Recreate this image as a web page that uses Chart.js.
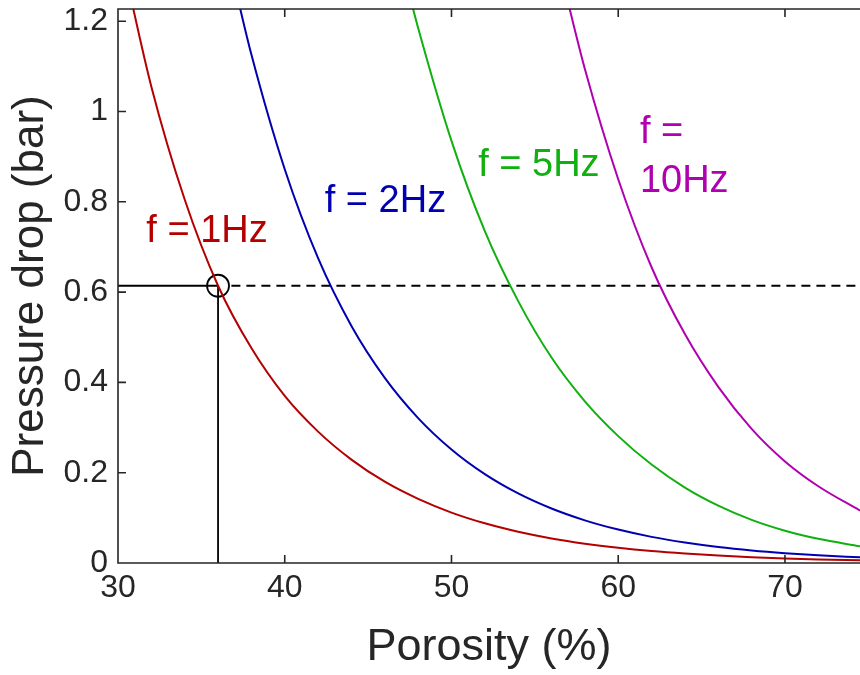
<!DOCTYPE html>
<html>
<head>
<meta charset="utf-8">
<script src="https://cdn.jsdelivr.net/npm/chart.js@4"></script>
<style>
    html, body { margin: 0; padding: 0; background: #fff; overflow: hidden; }
    #wrap { width: 860px; height: 675px; }
</style>
</head>
<body>
<div id="wrap"><canvas id="chart" width="860" height="675"></canvas></div>
<script>
// values
const porosity1Hz = [30.5, 32, 34, 36, 38, 40, 42, 44, 46, 48, 50, 52, 54, 56, 58, 60, 62, 64, 66, 68, 70, 72, 74.5];
const pressure1Hz = [1.296, 1.055, 0.805, 0.614, 0.476, 0.370, 0.291, 0.229, 0.180, 0.142, 0.1117, 0.0879, 0.0692, 0.0544, 0.0428, 0.0337, 0.0265, 0.0209, 0.0164, 0.0129, 0.0102, 0.0080, 0.0059];

const porosity2Hz = [37, 38, 40, 42, 44, 46, 48, 50, 52, 54, 56, 58, 60, 62, 64, 66, 68, 70, 72, 74.5];
const pressure2Hz = [1.279, 1.126, 0.872, 0.675, 0.525, 0.410, 0.321, 0.2514, 0.1968, 0.1541, 0.1207, 0.0945, 0.0740, 0.0579, 0.0454, 0.0355, 0.0278, 0.0218, 0.0171, 0.0126];

const porosity5Hz = [47.4, 48, 50, 52, 54, 56, 58, 60, 62, 64, 66, 68, 70, 72, 74.5];
const pressure5Hz = [1.27, 1.185, 0.935, 0.735, 0.58, 0.455, 0.358, 0.281, 0.218, 0.167, 0.127, 0.0955, 0.0715, 0.0535, 0.037];

const porosity10Hz = [56.8, 58, 60, 62, 64, 66, 68, 70, 72, 74.5];
const pressure10Hz = [1.27, 1.094, 0.85, 0.655, 0.507, 0.39, 0.297, 0.225, 0.170, 0.116];

const curveNames = ['f = 1Hz', 'f = 2Hz', 'f = 5Hz', 'f = 10Hz'];
const curveColors = ['#b40000', '#0000b0', '#10b010', '#b000b0'];

// operating point marked on the 1Hz curve
const markerPorosity = 36;
const markerPressure = 0.614;
const dashStart = 36.8;

const xTicks = [30, 40, 50, 60, 70];
const yTicks = [0, 0.2, 0.4, 0.6, 0.8, 1, 1.2];
const xMin = 30, xMax = 74.5;
const yMin = 0, yMax = 1.227;

const axisColor = '#262626';
const fontFamily = '"Liberation Sans", Arial, Helvetica, sans-serif';

// label placement in data units: [porosity at left edge, pressure at middle]
const labelSpots = [
    { lines: ['f = 1Hz'], x: 31.7, y: 0.735 },
    { lines: ['f = 2Hz'], x: 42.4, y: 0.80 },
    { lines: ['f = 5Hz'], x: 51.6, y: 0.88 },
    { lines: ['f =', '10Hz'], x: 61.3, y: 0.9 }
];

const toPoints = (xs, ys) => xs.map((x, i) => ({ x: x, y: ys[i] }));

const curveSets = [
    [porosity1Hz, pressure1Hz],
    [porosity2Hz, pressure2Hz],
    [porosity5Hz, pressure5Hz],
    [porosity10Hz, pressure10Hz]
].map(([xs, ys], i) => ({
    label: curveNames[i],
    data: toPoints(xs, ys),
    showLine: true,
    borderColor: curveColors[i],
    borderWidth: 2,
    pointRadius: 0,
    cubicInterpolationMode: 'monotone'
}));

const guideStyle = { showLine: true, borderColor: '#000', borderWidth: 1.8, pointRadius: 0 };

const guideSets = [
    Object.assign({ data: [{ x: xMin, y: markerPressure }, { x: markerPorosity, y: markerPressure }] }, guideStyle),
    Object.assign({ data: [{ x: markerPorosity, y: yMin }, { x: markerPorosity, y: markerPressure }] }, guideStyle),
    Object.assign({ data: [{ x: dashStart, y: markerPressure }, { x: xMax, y: markerPressure }], borderDash: [9, 6] }, guideStyle),
    {
        data: [{ x: markerPorosity, y: markerPressure }],
        pointRadius: 11,
        pointBorderWidth: 1.8,
        pointBorderColor: '#000',
        pointBackgroundColor: 'rgba(0,0,0,0)'
    }
];

const noPadding = s => {
    s.paddingLeft = 0;
    s.paddingRight = 0;
    s.paddingTop = 0;
    s.paddingBottom = 0;
};

const matlabAxes = {
    id: 'matlabAxes',
    afterDraw(chart) {
        const ctx = chart.ctx;
        const area = chart.chartArea;
        const xs = chart.scales.x;
        const ys = chart.scales.y;
        const tick = 8;

        ctx.save();
        ctx.strokeStyle = axisColor;
        ctx.lineWidth = 1.6;
        ctx.beginPath();
        ctx.moveTo(area.right + 2, area.top);
        ctx.lineTo(area.left, area.top);
        ctx.lineTo(area.left, area.bottom);
        ctx.lineTo(area.right + 2, area.bottom);
        xTicks.forEach(v => {
            const px = xs.getPixelForValue(v);
            ctx.moveTo(px, area.bottom);
            ctx.lineTo(px, area.bottom - tick);
            ctx.moveTo(px, area.top);
            ctx.lineTo(px, area.top + tick);
        });
        yTicks.forEach(v => {
            const py = ys.getPixelForValue(v);
            ctx.moveTo(area.left, py);
            ctx.lineTo(area.left + tick, py);
        });
        ctx.stroke();

        ctx.font = '38px ' + fontFamily;
        ctx.textAlign = 'left';
        ctx.textBaseline = 'middle';
        labelSpots.forEach((spot, i) => {
            ctx.fillStyle = curveColors[i];
            const px = xs.getPixelForValue(spot.x);
            const py = ys.getPixelForValue(spot.y);
            const step = 49;
            const first = py - (spot.lines.length - 1) * step / 2;
            spot.lines.forEach((line, j) => ctx.fillText(line, px, first + j * step));
        });
        ctx.restore();
    }
};

new Chart(document.getElementById('chart'), {
    type: 'scatter',
    data: { datasets: curveSets.concat(guideSets) },
    plugins: [matlabAxes],
    options: {
        responsive: false,
        animation: false,
        layout: { autoPadding: false, padding: { top: 9, right: 0, left: 0, bottom: 0 } },
        plugins: {
            legend: { display: false },
            tooltip: { enabled: false }
        },
        scales: {
            x: {
                type: 'linear',
                min: xMin,
                max: xMax,
                afterFit: s => { s.height = 112; noPadding(s); },
                afterBuildTicks: s => { s.ticks = xTicks.map(v => ({ value: v })); },
                grid: { display: false, drawTicks: false },
                border: { display: false },
                ticks: {
                    color: axisColor,
                    padding: 6,
                    font: { family: fontFamily, size: 32 },
                    maxRotation: 0,
                    autoSkip: false,
                    callback: v => String(v)
                },
                title: {
                    display: true,
                    text: 'Porosity (%)',
                    color: axisColor,
                    font: { family: fontFamily, size: 45 },
                    padding: { top: 0, bottom: 0 }
                }
            },
            y: {
                type: 'linear',
                min: yMin,
                max: yMax,
                afterFit: s => { s.width = 118; noPadding(s); },
                afterBuildTicks: s => { s.ticks = yTicks.map(v => ({ value: v })); },
                grid: { display: false, drawTicks: false },
                border: { display: false },
                ticks: {
                    color: axisColor,
                    padding: 10,
                    font: { family: fontFamily, size: 32 },
                    callback: v => String(Number(v.toFixed(1)))
                },
                title: {
                    display: true,
                    text: 'Pressure drop (bar)',
                    color: axisColor,
                    font: { family: fontFamily, size: 44 },
                    padding: { top: 4, bottom: 0 }
                }
            }
        }
    }
});
</script>
</body>
</html>
